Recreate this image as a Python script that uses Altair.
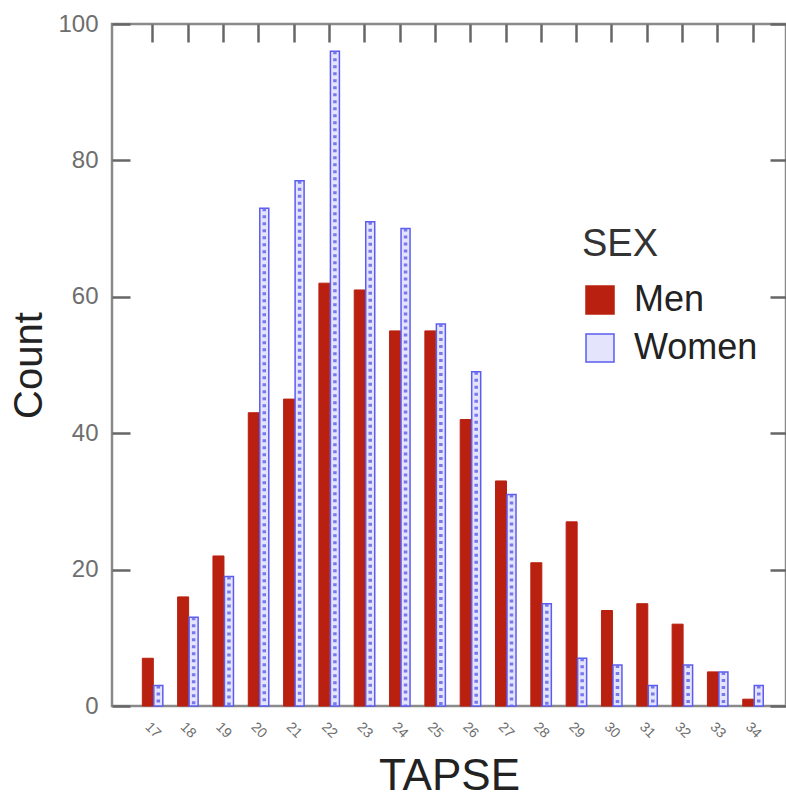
import altair as alt
import pandas as pd

# ---- data ----
tapse = [17, 18, 19, 20, 21, 22, 23, 24, 25, 26, 27, 28, 29, 30, 31, 32, 33, 34]
men = [7, 16, 22, 43, 45, 62, 61, 55, 55, 42, 33, 21, 27, 14, 15, 12, 5, 1]
women = [3, 13, 19, 73, 77, 96, 71, 70, 56, 49, 31, 15, 7, 6, 3, 6, 5, 3]
sexes = ["Men", "Women"]
y_ticks = [0, 20, 40, 60, 80, 100]

rows = []
for t, m, w in zip(tapse, men, women):
    rows.append({"TAPSE": t, "SEX": "Men", "Count": m})
    rows.append({"TAPSE": t, "SEX": "Women", "Count": w})
df = pd.DataFrame(rows)

W, H = 674, 682
RED = "#b9200f"
BLUE = "#5c5cf0"
LIGHT = "#e4e4fd"
AXIS_GRAY = "#6e6e6e"

xscale = alt.Scale(domain=[16, 34.8], nice=False, zero=False)
yscale = alt.Scale(domain=[0, 100], nice=False)

leg = alt.Legend(title="SEX", orient="none", legendX=470, legendY=202)
fill_enc = alt.Fill("SEX:N", scale=alt.Scale(domain=sexes, range=[RED, LIGHT]), legend=leg)
stroke_enc = alt.Stroke("SEX:N", scale=alt.Scale(domain=sexes, range=[RED, BLUE]), legend=leg)

base = alt.Chart(df)

# Men bars + main (labelled) axes
men_layer = base.transform_filter(alt.datum.SEX == "Men").mark_bar(
    width=11, xOffset=-4.5, strokeWidth=1
).encode(
    x=alt.X("TAPSE:Q", scale=xscale,
            axis=alt.Axis(orient="bottom", values=tapse, title="TAPSE", labelAngle=45,
                          labelAlign="center", labelBaseline="middle", labelPadding=24,
                          labelFontSize=14, labelColor=AXIS_GRAY, ticks=False, domain=False,
                          grid=False, titleFontSize=44, titleColor="#222",
                          titleFontWeight="normal", titleY=70, titleBaseline="middle")),
    y=alt.Y("Count:Q", scale=yscale,
            axis=alt.Axis(orient="left", values=y_ticks, title="Count", ticks=False,
                          domain=False, grid=False, labelFontSize=24, labelColor=AXIS_GRAY,
                          labelPadding=14, titleFontSize=40, titleColor="#222",
                          titleFontWeight="normal", titleX=-83, titleY=H / 2,
                          titleAngle=-90, titleAlign="center", titleBaseline="middle")),
    fill=fill_enc,
    stroke=stroke_enc,
)

# Women bars + inward ticks on top and right
women_layer = base.transform_filter(alt.datum.SEX == "Women").mark_bar(
    width=9, xOffset=6, strokeWidth=1.5
).encode(
    x=alt.X("TAPSE:Q", scale=xscale,
            axis=alt.Axis(orient="bottom", offset=-H, values=tapse, labels=False, title="",
                          domain=False, grid=False, ticks=True, tickSize=18,
                          tickColor="#666", tickWidth=2.5)),
    y=alt.Y("Count:Q", scale=yscale,
            axis=alt.Axis(orient="left", offset=-W, values=y_ticks, labels=False, title="",
                          domain=False, grid=False, ticks=True, tickSize=16,
                          tickColor="#666", tickWidth=2.5)),
    fill=fill_enc,
    stroke=stroke_enc,
)

# hatch texture for women's bars + inward ticks on the left
hatch_layer = base.transform_filter(alt.datum.SEX == "Women").mark_rule(
    xOffset=6, strokeDash=[3, 4], strokeWidth=3.5, color="#6a6aee", opacity=0.9
).encode(
    x=alt.X("TAPSE:Q", scale=xscale,
            axis=alt.Axis(orient="top", offset=-H, values=tapse, labels=False, title="",
                          domain=False, grid=False, ticks=False)),
    y=alt.Y("Count:Q", scale=yscale,
            axis=alt.Axis(orient="right", offset=-W, values=y_ticks, labels=False, title="",
                          domain=False, grid=False, ticks=True, tickSize=18,
                          tickColor="#666", tickWidth=2.5)),
    y2=alt.Y2(datum=0),
)

chart = alt.layer(men_layer, women_layer, hatch_layer).resolve_axis(
    x="independent", y="independent"
).properties(
    width=W, height=H,
    autosize=alt.AutoSizeParams(type="none"),
    padding={"left": 112, "top": 24, "right": 0, "bottom": 94},
    background="white",
).configure(
    font="Liberation Sans",
).configure_view(
    stroke="#8a8a8a", strokeWidth=2.5
).configure_legend(
    titleFontSize=38, titleColor="#333", titleFontWeight="normal", titlePadding=18,
    labelFontSize=36, labelColor="#222", labelOffset=16, rowPadding=12,
    symbolType="square", symbolSize=784, symbolStrokeWidth=1.5,
)

chart.save("out.html", embed_options={"renderer": "svg", "actions": False})
